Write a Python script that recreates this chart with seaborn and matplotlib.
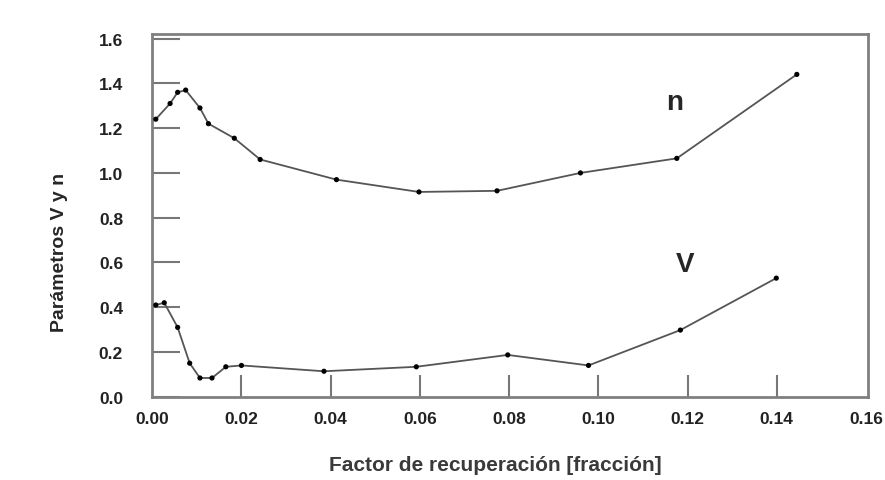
import numpy as np
import pandas as pd
import seaborn as sns
import matplotlib.pyplot as plt

# values
n_x = [0.0008, 0.004, 0.0057, 0.0075, 0.0107, 0.0126, 0.0184, 0.0242,
       0.0413, 0.0598, 0.0773, 0.096, 0.1176, 0.1445]
n_y = [1.24, 1.31, 1.36, 1.37, 1.29, 1.22, 1.155, 1.06,
       0.97, 0.915, 0.92, 1.0, 1.065, 1.44]

v_x = [0.0008, 0.0027, 0.0057, 0.0084, 0.0107, 0.0134, 0.0165, 0.020,
       0.0385, 0.0592, 0.0797, 0.0978, 0.1184, 0.1399]
v_y = [0.41, 0.42, 0.31, 0.15, 0.084, 0.084, 0.134, 0.14,
       0.114, 0.134, 0.187, 0.14, 0.298, 0.53]

x_ticks = [0.00, 0.02, 0.04, 0.06, 0.08, 0.10, 0.12, 0.14, 0.16]
y_ticks = [0.0, 0.2, 0.4, 0.6, 0.8, 1.0, 1.2, 1.4, 1.6]

df_n = pd.DataFrame({"x": n_x, "y": n_y})
df_v = pd.DataFrame({"x": v_x, "y": v_y})

sns.set_style("white")
plt.rcParams['font.family'] = ['Liberation Sans', 'DejaVu Sans']

fig = plt.figure(figsize=(8.85, 4.81), dpi=100)
ax = fig.add_axes([0.172, 0.173, 0.809, 0.754])

# curves: grey line with black dots
for d in (df_n, df_v):
    sns.lineplot(data=d, x="x", y="y", ax=ax, color="#555555", linewidth=1.3,
                 sort=False, estimator=None)
    sns.scatterplot(data=d, x="x", y="y", ax=ax, color="black", s=14,
                    edgecolor="none", zorder=3)

ax.text(0.117, 1.315, "n", fontsize=20, fontweight="bold", ha="center", va="center")
ax.text(0.1195, 0.595, "V", fontsize=20, fontweight="bold", ha="center", va="center")

ax.set_xlim(0.0, 0.1605)
ax.set_ylim(0.0, 1.62)
ax.set_xticks(x_ticks)
ax.set_yticks(y_ticks)
ax.set_xticklabels([f"{t:.2f}" for t in x_ticks], fontweight="bold", fontsize=12.5, color="#222222")
ax.set_yticklabels([f"{t:.1f}" for t in y_ticks], fontweight="bold", fontsize=12.5, color="#222222")
ax.tick_params(axis="y", direction="in", length=20, width=1.5, color="#777777", pad=21, left=True)
ax.tick_params(axis="x", direction="in", length=16, width=1.5, color="#777777", pad=10, bottom=True)
# no tick marks at the two ends of the x axis
xt = ax.xaxis.get_major_ticks()
xt[0].tick1line.set_visible(False)
xt[-1].tick1line.set_visible(False)

for s in ax.spines.values():
    s.set_color("#808080")
    s.set_linewidth(2)

ax.set_xlabel("Factor de recuperación [fracción]", fontsize=15, fontweight="bold",
              color="#3a3a3a")
ax.set_ylabel("Parámetros V y n", fontsize=14, fontweight="bold")
ax.xaxis.set_label_coords(0.479, -0.16)
ax.yaxis.set_label_coords(-0.117, 0.40)

plt.savefig("out.png", dpi=100)
